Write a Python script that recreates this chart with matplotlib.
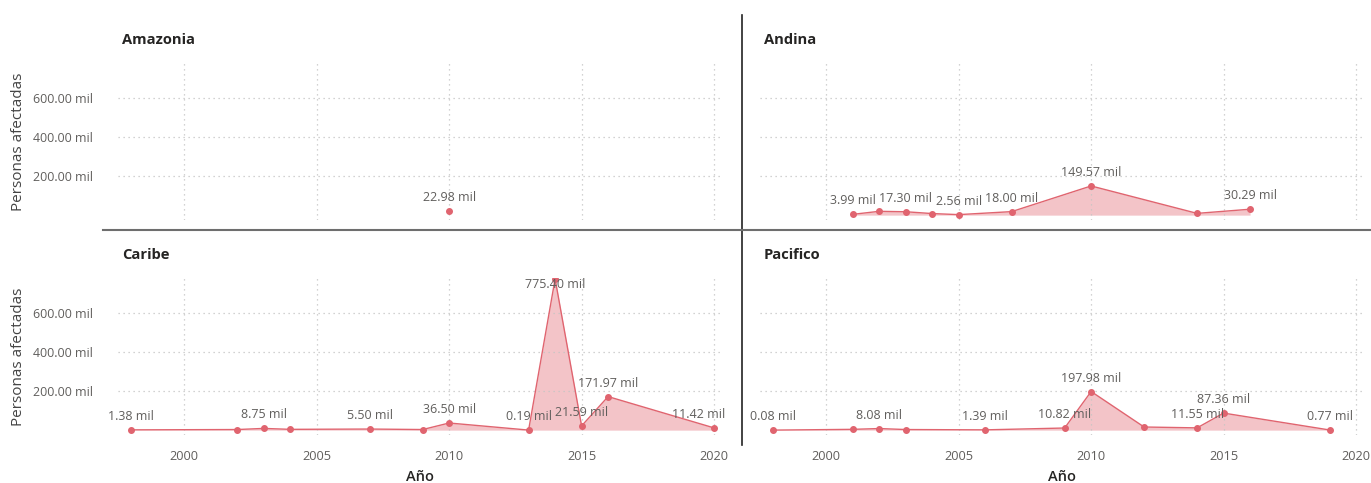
import matplotlib.pyplot as plt
from matplotlib.lines import Line2D

plt.rcParams['font.family'] = ['Open Sans', 'DejaVu Sans']

# datos (miles de personas afectadas)
amazonia_years = [2010]
amazonia_vals = [22.98]
amazonia_show = [1]

andina_years = [2001, 2002, 2003, 2004, 2005, 2007, 2010, 2014, 2016]
andina_vals = [3.99, 19.5, 17.30, 8.0, 2.56, 18.00, 149.57, 9.0, 30.29]
andina_show = [1, 0, 1, 0, 1, 1, 1, 0, 1]

caribe_years = [1998, 2002, 2003, 2004, 2007, 2009, 2010, 2013, 2014, 2015, 2016, 2020]
caribe_vals = [1.38, 3.0, 8.75, 4.0, 5.50, 3.0, 36.50, 0.19, 775.40, 21.59, 171.97, 11.42]
caribe_show = [1, 0, 1, 0, 1, 0, 1, 1, 1, 1, 1, 1]

pacifico_years = [1998, 2001, 2002, 2003, 2006, 2009, 2010, 2012, 2014, 2015, 2019]
pacifico_vals = [0.08, 4.0, 8.08, 3.0, 1.39, 10.82, 197.98, 16.0, 11.55, 87.36, 0.77]
pacifico_show = [1, 0, 1, 0, 1, 1, 1, 0, 1, 1, 1]

y_ticks = [200, 400, 600]
x_ticks = [2000, 2005, 2010, 2015, 2020]

line_col = '#E0646F'
txt_gray = '#605E5C'
dark = '#252423'

fig = plt.figure(figsize=(13.71, 4.83), dpi=100)

W, H = 1371, 483
def box(x0, x1, ytop, ybot):
    return [x0 / W, 1 - ybot / H, (x1 - x0) / W, (ybot - ytop) / H]

panels = [
    ('Amazonia', amazonia_years, amazonia_vals, amazonia_show, box(118, 722, 63, 220), True, False),
    ('Andina', andina_years, andina_vals, andina_show, box(760, 1364, 63, 220), False, False),
    ('Caribe', caribe_years, caribe_vals, caribe_show, box(118, 722, 278, 435), True, True),
    ('Pacifico', pacifico_years, pacifico_vals, pacifico_show, box(760, 1364, 278, 435), False, True),
]

for name, yrs, vals, show, pos, left, bottom in panels:
    ax = fig.add_axes(pos)
    ax.set_xlim(1997.5, 2020.3)
    ax.set_ylim(-25, 780)
    for s in ax.spines.values():
        s.set_visible(False)
    ax.set_xticks(x_ticks)
    ax.set_yticks(y_ticks)
    ax.grid(True, linestyle=(0, (1, 3)), color='#c4c4c4', lw=0.9)
    ax.tick_params(length=0, labelcolor=txt_gray)
    ax.tick_params(axis='y', pad=18, labelsize=8.9)
    ax.tick_params(axis='x', pad=11, labelsize=9.2)
    if left:
        ax.set_yticklabels(['%.2f mil' % v for v in y_ticks])
        ax.set_ylabel('Personas afectadas', fontsize=11, color='#444444')
        ax.yaxis.set_label_coords(-0.152, 0.5)
    else:
        ax.set_yticklabels([])
    if bottom:
        ax.set_xlabel('Año', fontsize=10.5, color=dark, labelpad=5, fontweight='semibold')
    else:
        ax.set_xticklabels([])

    if len(yrs) > 1:
        ax.fill_between(yrs, 0, vals, color=line_col, alpha=0.38, lw=0)
        ax.plot(yrs, vals, color=line_col, lw=1)
    ax.plot(yrs, vals, 'o', color=line_col, ms=4)

    for i, (x, v) in enumerate(zip(yrs, vals)):
        if not show[i]:
            continue
        dy = 5
        ha = 'center'
        dx = 0
        if v > 700:
            dy = -9
        if x == 2020:
            ha = 'right'
            dx = 8
        ax.annotate('%.2f mil' % v, (x, v), xytext=(dx, dy), textcoords='offset points',
                    ha=ha, va='bottom', fontsize=9, color=txt_gray)

    fig.text(pos[0] + 4 / W, pos[1] + pos[3] + 23 / H, name, fontsize=10.6,
             fontweight='bold', color=dark, va='center')

fig.add_artist(Line2D([742 / W, 742 / W], [1 - 15 / H, 1 - 445 / H], color='#222222', lw=1.2))
fig.add_artist(Line2D([103 / W, 1.0], [1 - 230 / H, 1 - 230 / H], color='#6e6e6e', lw=1.5))

fig.savefig('out.png', dpi=100, facecolor='white')
